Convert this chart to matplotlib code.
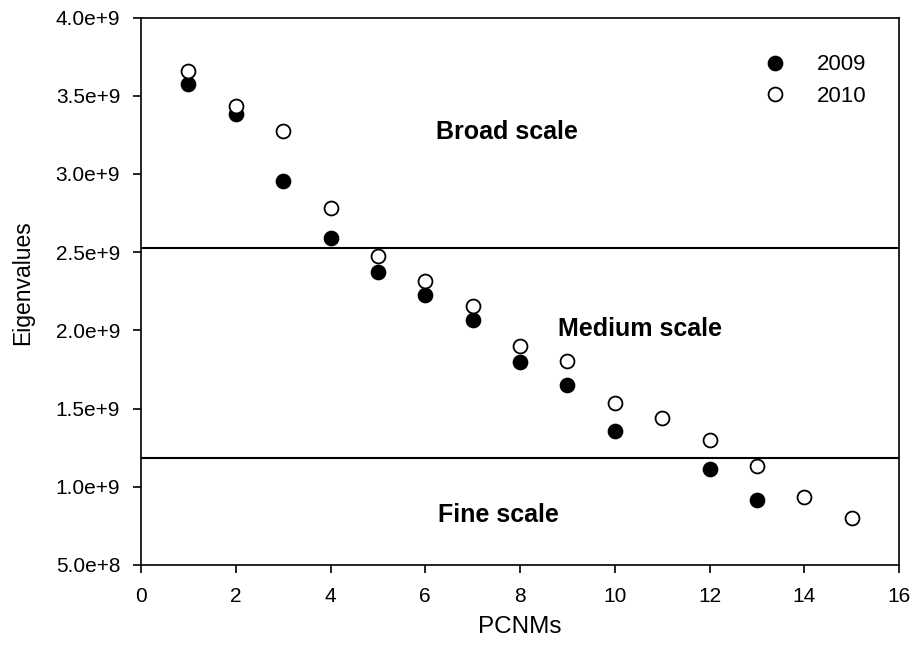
#!/usr/bin/env python3

# Eigenvalues of PCNMs for 2009 and 2010, with broad / medium / fine scale cutoffs.

import matplotlib
matplotlib.use('Agg')
import matplotlib.pyplot as plt

plt.rcParams['font.family'] = ['Liberation Sans', 'DejaVu Sans']

pcnm_2009 = [1, 2, 3, 4, 5, 6, 7, 8, 9, 10, 12, 13]
eig_2009 = [3.575e9, 3.384e9, 2.956e9, 2.592e9, 2.375e9, 2.224e9, 2.068e9,
            1.798e9, 1.651e9, 1.355e9, 1.111e9, 0.915e9]

pcnm_2010 = [1, 2, 3, 4, 5, 6, 7, 8, 9, 10, 11, 12, 13, 14, 15]
eig_2010 = [3.658e9, 3.437e9, 3.273e9, 2.782e9, 2.475e9, 2.317e9, 2.153e9,
            1.898e9, 1.802e9, 1.534e9, 1.438e9, 1.296e9, 1.132e9, 0.936e9,
            0.802e9]

cutoffs = [2.528e9, 1.183e9]
scale_names = ['Broad scale', 'Medium scale', 'Fine scale']
scale_x = [7.72, 10.53, 7.54]
scale_y = [3.27e9, 2.01e9, 0.82e9]

yticks = [5e8, 1e9, 1.5e9, 2e9, 2.5e9, 3e9, 3.5e9, 4e9]
ytick_labels = ['5.0e+8', '1.0e+9', '1.5e+9', '2.0e+9', '2.5e+9', '3.0e+9', '3.5e+9', '4.0e+9']

fig = plt.figure(figsize=(9.17, 6.45), dpi=100)
ax = fig.add_axes([141/917, 1 - 565/645, 758/917, 547.5/645])

for y in cutoffs:
    ax.axhline(y, color='black', lw=1.5, zorder=1)

ax.plot(pcnm_2009, eig_2009, 'o', ms=10, mfc='black', mec='black', mew=1.3,
        label='2009', zorder=3)
ax.plot(pcnm_2010, eig_2010, 'o', ms=10, mfc='white', mec='black', mew=1.3,
        label='2010', zorder=3)

for name, x, y in zip(scale_names, scale_x, scale_y):
    ax.text(x, y, name, ha='center', va='center', fontsize=18, fontweight='bold')

ax.set_xlim(0, 16)
ax.set_ylim(5e8, 4e9)
ax.set_xticks(range(0, 17, 2))
ax.set_yticks(yticks)
ax.set_yticklabels(ytick_labels)
ax.tick_params(direction='out', length=6, width=1.2, labelsize=15)
ax.tick_params(axis='x', pad=10)
ax.tick_params(axis='y', pad=9)
for s in ax.spines.values():
    s.set_linewidth(1.2)

ax.set_xlabel('PCNMs', fontsize=17.5)
ax.set_ylabel('Eigenvalues', fontsize=16.5)
ax.xaxis.set_label_coords(0.5, -0.093)
ax.yaxis.set_label_coords(-0.141, 0.515)

ax.legend(loc='upper left', bbox_to_anchor=(0.81, 0.949), frameon=False,
          fontsize=16, handlelength=1.0, handletextpad=1.4, labelspacing=0.48,
          borderaxespad=0)

fig.savefig('out.png', dpi=100)
plt.close(fig)
